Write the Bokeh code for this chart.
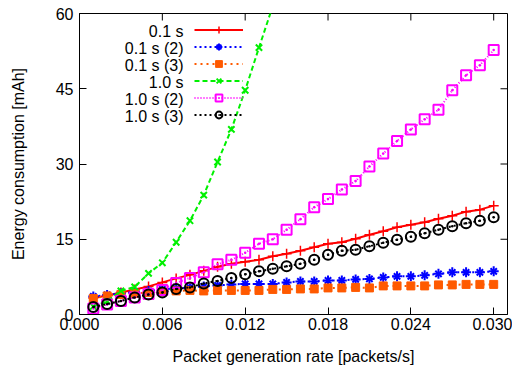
from bokeh.plotting import figure
from bokeh.models import Range1d, Legend, LegendItem, Label, FixedTicker
from bokeh.embed import file_html
from bokeh.resources import INLINE

rate = [0.001, 0.002, 0.003, 0.004, 0.005, 0.006, 0.007, 0.008, 0.009, 0.010,
        0.011, 0.012, 0.013, 0.014, 0.015, 0.016, 0.017, 0.018, 0.019, 0.020,
        0.021, 0.022, 0.023, 0.024, 0.025, 0.026, 0.027, 0.028, 0.029, 0.030]

s01 = [3.3, 3.8, 4.4, 5.0, 5.6, 6.4, 7.2, 7.9, 8.7, 9.5, 10.1, 10.5, 10.9, 11.6,
       12.1, 12.7, 13.4, 14.1, 14.4, 15.1, 15.9, 16.6, 17.4, 17.9, 18.4, 19.1,
       19.7, 20.5, 20.9, 21.7]
s01_2 = [3.6, 3.9, 4.2, 4.5, 4.7, 5.0, 5.2, 5.4, 5.6, 5.8, 6.0, 6.1, 6.1, 6.1,
         6.4, 6.6, 6.6, 6.8, 6.8, 7.0, 7.1, 7.4, 7.6, 7.6, 7.8, 8.1, 8.4, 8.4,
         8.4, 8.6]
s01_3 = [3.2, 3.7, 4.0, 4.2, 4.4, 4.5, 4.7, 4.8, 4.7, 4.8, 4.8, 4.8, 4.8, 5.0,
         5.0, 5.1, 5.1, 5.3, 5.3, 5.4, 5.3, 5.7, 5.7, 5.7, 5.7, 5.9, 5.9, 6.0,
         6.0, 6.0]
s10 = [1.6, 2.6, 4.7, 5.5, 8.2, 10.3, 14.4, 18.7, 23.8, 30.4, 36.9, 44.7, 53.2,
       61.5]
s10_2 = [1.2, 2.0, 2.7, 3.4, 4.1, 4.9, 6.3, 7.3, 8.4, 10.0, 10.9, 12.3, 14.1,
         15.0, 16.9, 19.0, 21.4, 23.0, 24.9, 26.6, 29.5, 32.1, 34.6, 36.9, 38.9,
         40.8, 44.7, 47.7, 49.7, 52.7]
s10_3 = [1.5, 2.1, 2.7, 3.4, 4.0, 4.4, 5.1, 5.4, 6.2, 6.7, 7.3, 8.0, 8.6, 9.1,
         9.6, 10.1, 10.9, 11.9, 12.7, 12.9, 13.6, 14.3, 14.9, 15.5, 16.2, 16.9,
         17.6, 18.2, 18.7, 19.4]

names = ["0.1 s", "0.1 s (2)", "0.1 s (3)", "1.0 s", "1.0 s (2)", "1.0 s (3)"]
x_ticks = [0.0, 0.006, 0.012, 0.018, 0.024, 0.030]
x_tick_labels = ["0.000", "0.006", "0.012", "0.018", "0.024", "0.030"]
y_ticks = [0, 15, 30, 45, 60]
X_MAX = 0.031
Y_MAX = 60

FONT = "Liberation Sans"
FS = "16px"
FRAME_W, FRAME_H = 428, 301
BL, BT, BR, BB = 79, 13, 5, 54
TICK = 7

p = figure(width=BL + FRAME_W + BR, height=BT + FRAME_H + BB,
           output_backend="svg", toolbar_location=None,
           x_range=Range1d(0, X_MAX), y_range=Range1d(0, Y_MAX),
           min_border_left=BL, min_border_right=BR, min_border_top=BT,
           min_border_bottom=BB, x_axis_label="Packet generation rate [packets/s]",
           y_axis_label="Energy consumption [mAh]")
p.grid.visible = False
p.outline_line_color = "black"
p.outline_line_width = 1
p.background_fill_color = "white"
p.border_fill_color = "white"

def style_axis(ax, ticks):
    ax.ticker = FixedTicker(ticks=ticks)
    ax.major_tick_in = TICK
    ax.major_tick_out = 0
    ax.minor_tick_line_color = None
    ax.axis_line_color = "black"
    ax.major_tick_line_color = "black"
    ax.major_label_text_font = FONT
    ax.major_label_text_color = "black"
    ax.major_label_text_font_size = FS
    ax.axis_label_text_font = FONT
    ax.axis_label_text_font_style = "normal"
    ax.axis_label_text_font_size = FS
    ax.axis_label_text_color = "black"

xa = p.xaxis[0]
style_axis(xa, x_ticks)
xa.major_label_overrides = {t: l for t, l in zip(x_ticks, x_tick_labels)}
xa.major_label_standoff = 3
xa.axis_label_standoff = 15

ya = p.yaxis[0]
style_axis(ya, y_ticks)
ya.major_label_standoff = 6
ya.axis_label_standoff = 26

# mirrored inward ticks on the top and right frame edges
dy = TICK * Y_MAX / FRAME_H
dx = TICK * X_MAX / FRAME_W
p.segment(x0=x_ticks, y0=[Y_MAX] * len(x_ticks), x1=x_ticks,
          y1=[Y_MAX - dy] * len(x_ticks), line_color="black", line_width=1)
p.segment(x0=[X_MAX] * len(y_ticks), y0=y_ticks, x1=[X_MAX - dx] * len(y_ticks),
          y1=y_ticks, line_color="black", line_width=1)

# series
r1l = p.line(rate, s01, line_color="#ff0000", line_width=2)
r1m = p.scatter(rate, s01, marker="cross", size=10, line_color="#ff0000", line_width=1.5)

r2l = p.line(rate, s01_2, line_color="#0000ff", line_width=2, line_dash="2 3")
r2m = p.scatter(rate, s01_2, marker="cross", size=10, line_color="#0000ff", line_width=2)
r2n = p.scatter(rate, s01_2, marker="x", size=9, line_color="#0000ff", line_width=2)

r3l = p.line(rate, s01_3, line_color="#ff5a00", line_width=2, line_dash="2 4")
r3m = p.scatter(rate, s01_3, marker="square", size=8, line_color="#ff5a00",
                fill_color="#ff5a00", line_width=1)

r4l = p.line(rate[:len(s10)], s10, line_color="#00f000", line_width=2, line_dash="5 3")
r4m = p.scatter(rate[:len(s10)], s10, marker="x", size=9, line_color="#00f000", line_width=2)

r5l = p.line(rate, s10_2, line_color="#ff00ff", line_width=2, line_dash="1 2")
r5m = p.scatter(rate, s10_2, marker="square_dot", size=10, line_color="#ff00ff",
                fill_color=None, line_width=2)

r6l = p.line(rate, s10_3, line_color="black", line_width=2, line_dash="2 3")
r6m = p.scatter(rate, s10_3, marker="circle_dot", size=10, line_color="black",
                fill_color=None, line_width=2)

ROW = 17
LEG_TOP = 8
groups = [[r1l, r1m], [r2l, r2m, r2n], [r3l, r3m], [r4l, r4m], [r5l, r5m], [r6l, r6m]]
items = [LegendItem(label=" ", renderers=g) for g in groups]
legend = Legend(items=items, location=(115, FRAME_H - LEG_TOP - ROW * len(groups)),
                glyph_width=49, glyph_height=ROW, label_width=0, label_standoff=0,
                label_height=ROW, spacing=0, padding=0, margin=0,
                border_line_color=None, background_fill_alpha=0,
                label_text_font_size="11px", label_text_font=FONT)
p.add_layout(legend)

for i, name in enumerate(names):
    p.add_layout(Label(x=104, y=FRAME_H - (LEG_TOP + ROW / 2 + ROW * i) - 1,
                       x_units="screen", y_units="screen",
                       text=name, text_align="right", text_baseline="middle",
                       text_font=FONT, text_font_size=FS, text_color="black"))

open("out.html", "w").write(file_html(p, INLINE))
